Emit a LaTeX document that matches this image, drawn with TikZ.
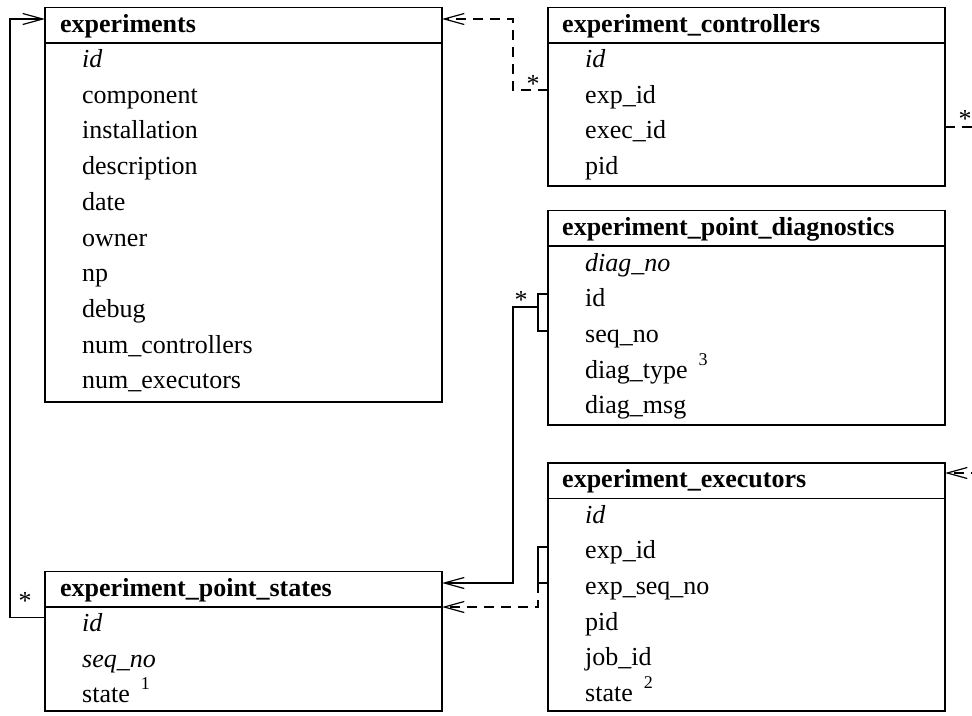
\documentclass[tikz,border=0pt]{standalone}
\usepackage{fontspec}
\setmainfont{Liberation Serif}
\usetikzlibrary{arrows.meta}

\newcommand\tabfont{\fontsize{26}{30}\selectfont}
\newcommand\supnum[1]{\hspace{11pt}\raisebox{13pt}{\fontsize{18}{18}\selectfont #1}}

\begin{document}
\begin{tikzpicture}[x=1pt,y=-1pt,
  tbl/.style={draw, line width=1.3pt, inner sep=0pt, outer sep=0pt,
              anchor=north west, minimum width=397pt},
  sepline/.style={line width=1.3pt},
  hdr/.style={anchor=base west, inner sep=0pt, font=\tabfont\bfseries},
  fld/.style={anchor=base west, inner sep=0pt, font=\tabfont},
  mult/.style={anchor=base, inner sep=0pt, font=\tabfont},
  link/.style={line width=1.2pt},
  fk/.style={link, -{Straight Barb[length=20pt,width=11pt]}},
  dashlink/.style={dash pattern=on 10pt off 7pt}]

\useasboundingbox (0,0) rectangle (972,715);

% ---- table frames ----
\node[tbl, minimum height=394.5pt] (exps)   at (45,7.5)    {};
\node[tbl, minimum height=178.5pt] (ctrl)   at (548,7.5)   {};
\node[tbl, minimum height=214.5pt] (diag)   at (548,210.5) {};
\node[tbl, minimum height=248pt]   (exec)   at (548,463)   {};
\node[tbl, minimum height=139.5pt] (states) at (45,571.5)  {};

% ---- header separators ----
\foreach \t in {exps,ctrl,diag,exec,states}
  \draw[sepline] ([yshift=-35.5pt]\t.north west) -- ([yshift=-35.5pt]\t.north east);

% ---- experiments ----
\node[hdr] (exps-h) at (60,32) {experiments};
\foreach \f [count=\i from 0] in {{\itshape id},component,installation,description,date,owner,np,debug,num\_controllers,num\_executors}
  \node[fld] (exps-\i) at (82,67.5+35.7*\i) {\f};

% ---- experiment_controllers ----
\node[hdr] (ctrl-h) at (562,32) {experiment\_controllers};
\foreach \f [count=\i from 0] in {{\itshape id},exp\_id,exec\_id,pid}
  \node[fld] (ctrl-\i) at (585,67.5+35.7*\i) {\f};

% ---- experiment_point_diagnostics ----
\node[hdr] (diag-h) at (562,235) {experiment\_point\_diagnostics};
\foreach \f [count=\i from 0] in {{\itshape diag\_no},id,seq\_no,{diag\_type\supnum{3}},diag\_msg}
  \node[fld] (diag-\i) at (585,271+35.7*\i) {\f};

% ---- experiment_executors ----
\node[hdr] (exec-h) at (562,487.5) {experiment\_executors};
\foreach \f [count=\i from 0] in {{\itshape id},exp\_id,exp\_seq\_no,pid,job\_id,{state\supnum{2}}}
  \node[fld] (exec-\i) at (585,523+35.7*\i) {\f};

% ---- experiment_point_states ----
\node[hdr] (states-h) at (60,596) {experiment\_point\_states};
\foreach \f [count=\i from 0] in {{\itshape id},{\itshape seq\_no},{state\supnum{1}}}
  \node[fld] (states-\i) at (82,631.5+35.7*\i) {\f};

% ---- bend points and free ends ----
\coordinate (railL)  at (10,19);
\coordinate (railC)  at (513,19);
\coordinate (railD)  at (513,583);
\coordinate (brD)    at (538,307);
\coordinate (brE)    at (538,583);
\coordinate (outC)   at (985,127);
\coordinate (outE)   at (995,473);

% point_states -> experiments
\draw[fk] ([yshift=-46pt]states.north west) -| (railL) -- ([yshift=-11.5pt]exps.north west);
\node[mult] (m1) at (25,609) {*};

% controllers -> experiments
\draw[fk, dashlink] ([yshift=-82.5pt]ctrl.north west) -| (railC) -- ([yshift=-11.5pt]exps.north east);
\node[mult] (m2) at (533,92) {*};

% controllers -> executors (leaves the frame)
\draw[link, dashlink] ([yshift=-119.5pt]ctrl.north east) -- (outC);
\node[mult] (m3) at (965,127) {*};

% incoming link on executors
\draw[fk, dashlink, dash phase=3pt] (outE) -- ([yshift=-10pt]exec.north east);

% diagnostics (id, seq_no) -> point_states
\draw[link] ([yshift=-83.5pt]diag.north west) -| (brD) |- ([yshift=-120.5pt]diag.north west);
\draw[fk] (brD) -| (railD) -- ([yshift=-11.5pt]states.north east);
\node[mult] (m4) at (521,308) {*};

% executors (exp_id, exp_seq_no) -> point_states
\draw[link] ([yshift=-84pt]exec.north west) -| (brE) -- ([yshift=-120pt]exec.north west);
\draw[fk, dashlink] (brE) |- ([yshift=-35.5pt]states.north east);

\end{tikzpicture}
\end{document}
